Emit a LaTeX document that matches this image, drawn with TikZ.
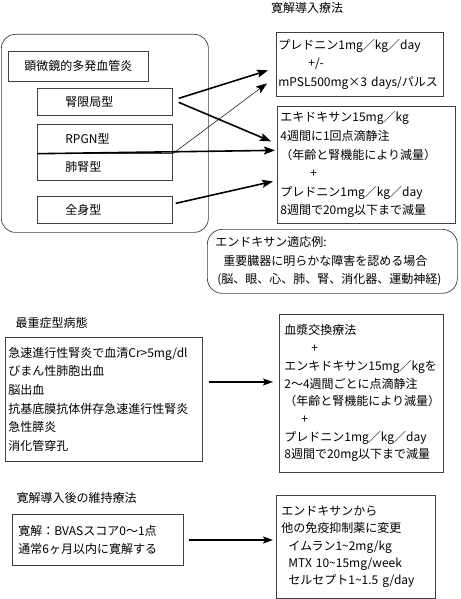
\documentclass[tikz,border=0pt]{standalone}
\usepackage{fontspec}
\setmainfont{Noto Sans CJK JP}
\usetikzlibrary{arrows.meta}

\begin{document}
\begin{tikzpicture}[x=1pt,y=-1pt]
\useasboundingbox (0,0) rectangle (460,599);

\tikzstyle{every node}=[font=\fontsize{12}{18.6}\selectfont]
\tikzstyle{box}=[draw=black!75,line width=0.7pt,anchor=north west,align=left,inner xsep=3pt,inner ysep=0pt]
\tikzstyle{typebox}=[draw=black!75,line width=0.7pt,anchor=north west,minimum width=135pt,text width=79pt,align=left,inner sep=0pt]
\tikzstyle{heavy}=[line width=1.6pt,-{Stealth[length=11pt,width=8pt,inset=2pt]}]
\tikzstyle{light}=[line width=0.5pt,-{Stealth[length=11pt,width=8pt,inset=2pt]}]
\tikzstyle{flow}=[line width=1.3pt,-{Stealth[length=10pt,width=7pt,inset=2pt]}]

% induction
\node (indtitle) at (307,8) {寛解導入療法};
\node (mpa) [draw=black!75,line width=0.7pt,rounded corners=14pt,anchor=north west,minimum width=207pt,minimum height=198pt,inner sep=0pt] at (1,34) {};
\node (mpaname) [draw=black!75,line width=0.7pt,anchor=north west,minimum width=140pt,minimum height=30pt,inner sep=0pt] at (8,51) {顕微鏡的多発血管炎};
\node (kidney) [typebox,minimum height=27pt] at (37,88) {腎限局型};
\node (rpgn) [typebox,minimum height=29pt] at (37,124) {RPGN型};
\node (pulm) [typebox,minimum height=27pt] at (37,153) {肺腎型};
\node (whole) [typebox,minimum height=27pt] at (37,196) {全身型};

\node (pred) [box,inner xsep=2pt,text width=163pt,minimum height=64pt] at (276,32)
  {プレドニン1mg／kg／day\\\hspace*{30pt}+/-\\mPSL500mg×3 days/パルス};
\node (endo) [box,text width=172pt,minimum height=117pt] at (277,106)
  {エキドキサン15mg／kg\\4週間に1回点滴静注\\（年齢と腎機能により減量）\\\hspace*{30pt}+\\プレドニン1mg／kg／day\\8週間で20mg以下まで減量};
\node (indic) [box,rounded corners=15pt,inner xsep=8pt,text width=234pt,minimum height=64pt] at (207,229)
  {エンドキサン適応例:\\\hspace*{8pt}重要臓器に明らかな障害を認める場合\\\hspace*{2pt}(脳、眼、心、肺、腎、消化器、運動神経)};

\draw[heavy] ([xshift=6pt,yshift=3.5pt]kidney.east) -- ([xshift=-8pt,yshift=-6pt]pred.west);
\draw[heavy] ([xshift=6pt,yshift=-0.5pt]kidney.east) -- ([xshift=-6pt,yshift=23.5pt]endo.west);
\draw[light] (rpgn.south east) -- ([xshift=-9pt,yshift=-19pt]pred.west);
\draw[heavy] (rpgn.south west) -- ([xshift=-2pt,yshift=14.5pt]endo.west);
\draw[heavy] ([xshift=3pt,yshift=6.5pt]whole.east) -- ([xshift=-4pt,yshift=-16.5pt]endo.west);

% most severe
\node (crittitle) [anchor=west] at (12,323) {最重症型病態};
\node (crit) [box,text width=191pt,minimum height=124pt,font=\fontsize{12}{18.7}\selectfont] at (5,337)
  {急速進行性腎炎で血清Cr>5mg/dl\\びまん性肺胞出血\\脳出血\\抗基底膜抗体併存急速進行性腎炎\\急性膵炎\\消化管穿孔};
\node (plasma) [box,inner xsep=5pt,text width=154pt,minimum height=158pt,font=\fontsize{12}{17.7}\selectfont] at (279,314)
  {血漿交換療法\\\hspace*{27pt}+\\エンキドキサン15mg／kgを\\2〜4週間ごとに点滴静注\\（年齢と腎機能により減量）\\\hspace*{17pt}+\\プレドニン1mg／kg／day\\8週間で20mg以下まで減量};
\coordinate (critlevel) at (0,382);
\draw[flow,shorten <=6pt,shorten >=6pt] (crit.east |- critlevel) -- (plasma.west |- critlevel);

% maintenance
\node (maintitle) [anchor=west] at (13,498) {寛解導入後の維持療法};
\node (remis) [box,inner xsep=6pt,text width=159pt,minimum height=51pt,font=\fontsize{12}{18}\selectfont] at (12,514)
  {寛解：BVASスコア0〜1点\\通常6ヶ月以内に寛解する};
\node (maint) [box,inner xsep=5pt,text width=149pt,minimum height=103pt,font=\fontsize{12}{17.3}\selectfont] at (276,495)
  {エンドキサンから\\他の免疫抑制薬に変更\\\hspace*{7pt}イムラン1\textasciitilde2mg/kg\\\hspace*{7pt}MTX 10\textasciitilde15mg/week\\\hspace*{7pt}セルセプト1\textasciitilde1.5 g/day};
\coordinate (remislevel) at (0,540);
\draw[flow,shorten <=5pt,shorten >=3pt] (remis.east |- remislevel) -- (maint.west |- remislevel);
\end{tikzpicture}
\end{document}
